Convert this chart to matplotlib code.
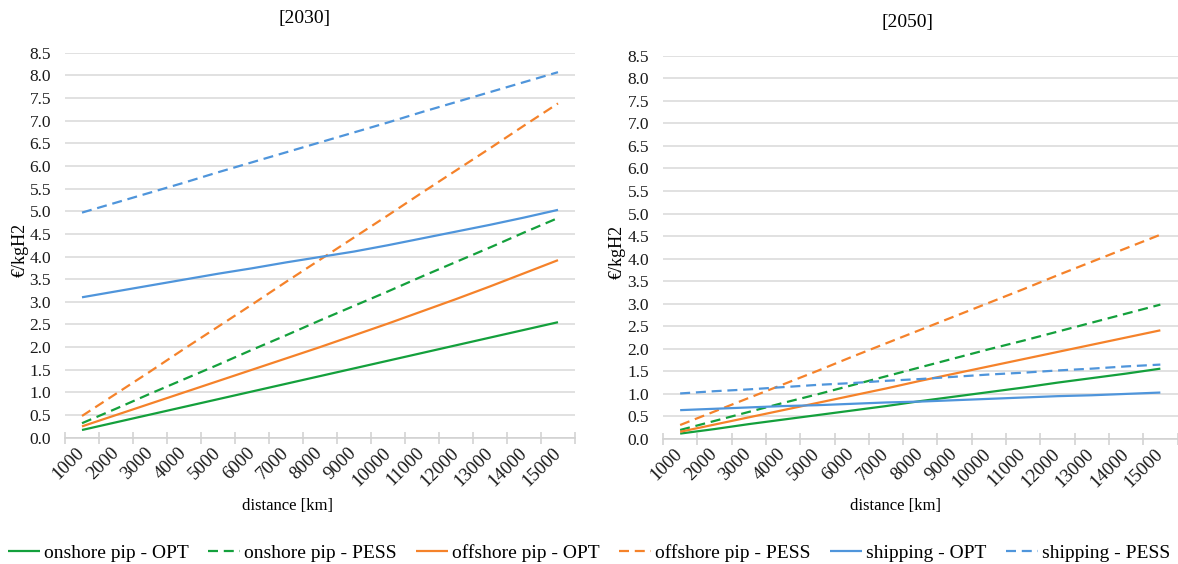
import matplotlib
matplotlib.use("Agg")
import matplotlib.pyplot as plt
from matplotlib.ticker import MultipleLocator

plt.rcParams["font.family"] = ["Liberation Serif", "DejaVu Serif"]

# distance categories [km]
distances = [1000, 2000, 3000, 4000, 5000, 6000, 7000, 8000,
             9000, 10000, 11000, 12000, 13000, 14000, 15000]

# 2030 costs [EUR/kgH2]
onshore_opt_2030 = [0.17, 0.34, 0.51, 0.68, 0.85, 1.02, 1.19, 1.36,
                    1.53, 1.70, 1.87, 2.04, 2.21, 2.38, 2.55]
onshore_pess_2030 = [0.32, 0.64, 0.97, 1.29, 1.61, 1.94, 2.26, 2.59,
                     2.91, 3.23, 3.56, 3.88, 4.20, 4.53, 4.85]
offshore_opt_2030 = [0.25, 0.50, 0.75, 1.00, 1.25, 1.50, 1.75, 2.00,
                     2.26, 2.52, 2.79, 3.06, 3.34, 3.63, 3.92]
offshore_pess_2030 = [0.48, 0.97, 1.46, 1.96, 2.45, 2.94, 3.44, 3.93,
                      4.42, 4.91, 5.41, 5.90, 6.39, 6.89, 7.38]
shipping_opt_2030 = [3.10, 3.23, 3.36, 3.49, 3.62, 3.74, 3.87, 3.99,
                     4.11, 4.25, 4.40, 4.55, 4.70, 4.86, 5.03]
shipping_pess_2030 = [4.97, 5.19, 5.41, 5.63, 5.86, 6.08, 6.30, 6.52,
                      6.74, 6.96, 7.19, 7.41, 7.63, 7.85, 8.07]

# 2050 costs [EUR/kgH2]
onshore_opt_2050 = [0.12, 0.22, 0.33, 0.43, 0.53, 0.63, 0.73, 0.84,
                    0.94, 1.04, 1.14, 1.25, 1.35, 1.45, 1.56]
onshore_pess_2050 = [0.20, 0.40, 0.60, 0.80, 0.99, 1.19, 1.39, 1.59,
                     1.79, 1.99, 2.18, 2.38, 2.58, 2.78, 2.98]
offshore_opt_2050 = [0.16, 0.32, 0.48, 0.64, 0.80, 0.96, 1.12, 1.29,
                     1.45, 1.61, 1.77, 1.93, 2.09, 2.25, 2.41]
offshore_pess_2050 = [0.31, 0.61, 0.91, 1.21, 1.51, 1.82, 2.12, 2.42,
                      2.72, 3.02, 3.32, 3.63, 3.93, 4.23, 4.53]
shipping_opt_2050 = [0.64, 0.67, 0.70, 0.73, 0.75, 0.78, 0.81, 0.83,
                     0.86, 0.89, 0.92, 0.95, 0.97, 1.00, 1.03]
shipping_pess_2050 = [1.01, 1.06, 1.10, 1.15, 1.20, 1.24, 1.29, 1.33,
                      1.38, 1.43, 1.47, 1.52, 1.56, 1.61, 1.65]

series_labels = ["onshore pip - OPT", "onshore pip - PESS",
                 "offshore pip - OPT", "offshore pip - PESS",
                 "shipping - OPT", "shipping - PESS"]

GREEN = "#14a03c"
ORANGE = "#f5822a"
BLUE = "#4f95db"
DASH = (0, (4.5, 2.6))
styles = [(GREEN, "-"), (GREEN, DASH), (ORANGE, "-"), (ORANGE, DASH),
          (BLUE, "-"), (BLUE, DASH)]

data_2030 = [onshore_opt_2030, onshore_pess_2030, offshore_opt_2030,
             offshore_pess_2030, shipping_opt_2030, shipping_pess_2030]
data_2050 = [onshore_opt_2050, onshore_pess_2050, offshore_opt_2050,
             offshore_pess_2050, shipping_opt_2050, shipping_pess_2050]

W, H = 1178, 564
fig = plt.figure(figsize=(W / 100, H / 100), dpi=100)


def px_axes(x0, x1, ytop, ybot):
    return fig.add_axes([x0 / W, 1 - ybot / H, (x1 - x0) / W, (ybot - ytop) / H])


ax_l = px_axes(65, 575, 52.7, 437.7)
ax_r = px_axes(663, 1177.5, 55.7, 439)

pos = list(range(len(distances)))
for ax, data in ((ax_l, data_2030), (ax_r, data_2050)):
    for vals, (col, ls), lab in zip(data, styles, series_labels):
        ax.plot(pos, vals, color=col, linestyle=ls, lw=1.6, label=lab,
                solid_capstyle="butt", dash_capstyle="butt")
    ax.set_xlim(-0.5, len(distances) - 0.5)
    ax.set_ylim(0, 8.5)
    ax.yaxis.set_major_locator(MultipleLocator(0.5))
    ax.yaxis.set_major_formatter(lambda v, p: f"{v:.1f}")
    ax.grid(axis="y", color="#d9d9d9", lw=1.1)
    ax.set_axisbelow(True)
    for s in ("top", "right", "left"):
        ax.spines[s].set_visible(False)
    ax.spines["bottom"].set_color("#d0d0d0")
    ax.spines["bottom"].set_linewidth(1.1)
    ax.set_xticks(pos)
    ax.set_xticklabels([str(d) for d in distances], rotation=45,
                       ha="right", va="center", rotation_mode="anchor")
    ax.set_xticks([p - 0.5 for p in pos] + [len(pos) - 0.5], minor=True)
    ax.tick_params(axis="x", which="major", length=0, pad=9, labelsize=13.5,
                   labelcolor="#1a1a1a")
    ax.tick_params(axis="x", which="minor", direction="inout", length=8,
                   width=1.1, color="#d0d0d0")
    ax.tick_params(axis="y", length=0, pad=10, labelsize=12.5,
                   labelcolor="#1a1a1a")

# panel titles and axis titles
fig.text(305 / W, 1 - 18 / H, "[2030]", ha="center", va="center", fontsize=14)
fig.text(908 / W, 1 - 22 / H, "[2050]", ha="center", va="center", fontsize=14)
fig.text(287 / W, 1 - 506 / H, "distance [km]", ha="center", va="center", fontsize=12)
fig.text(896 / W, 1 - 506 / H, "distance [km]", ha="center", va="center", fontsize=12)
fig.text(20 / W, 1 - 250 / H, "€/kgH2", rotation=90, ha="center", va="center", fontsize=13)
fig.text(617 / W, 1 - 252 / H, "€/kgH2", rotation=90, ha="center", va="center", fontsize=13)

handles, labels = ax_l.get_legend_handles_labels()
fig.legend(handles, labels, ncol=6, loc="center left", frameon=False,
           bbox_to_anchor=(8 / W, 1 - 553 / H), borderpad=0, borderaxespad=0,
           fontsize=14, handlelength=1.65, handletextpad=0.2,
           columnspacing=1.0)

fig.savefig("out.png", dpi=100)
